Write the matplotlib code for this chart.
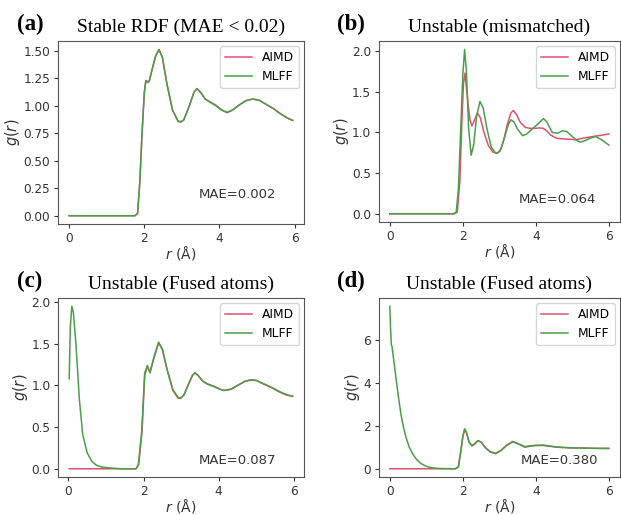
import matplotlib
matplotlib.use('Agg')
import matplotlib.pyplot as plt

# (a) stable RDF
ra = [0, 1.75, 1.82, 1.88, 1.94, 2.0, 2.04, 2.08, 2.13, 2.2, 2.3, 2.39, 2.48, 2.6, 2.75, 2.9,
      2.97, 3.05, 3.2, 3.32, 3.4, 3.5, 3.62, 3.75, 3.9, 4.05, 4.2, 4.35, 4.5, 4.7, 4.88, 5.05,
      5.25, 5.45, 5.65, 5.85, 5.95]
ga_mlff = [0, 0, 0.02, 0.3, 0.75, 1.12, 1.23, 1.22, 1.22, 1.32, 1.45, 1.51, 1.44, 1.2, 0.96, 0.86,
           0.855, 0.87, 1.0, 1.12, 1.155, 1.12, 1.06, 1.03, 1.0, 0.96, 0.94, 0.96, 1.0, 1.045, 1.06, 1.05,
           1.01, 0.97, 0.92, 0.88, 0.866]
ga_aimd = [0, 0, 0.02, 0.31, 0.76, 1.12, 1.22, 1.21, 1.22, 1.32, 1.45, 1.51, 1.44, 1.2, 0.96, 0.855,
           0.85, 0.87, 1.0, 1.12, 1.155, 1.12, 1.06, 1.035, 1.005, 0.965, 0.935, 0.96, 1.0, 1.045, 1.06, 1.05,
           1.01, 0.97, 0.92, 0.88, 0.866]

# (b) mismatched
rb_mlff = [0, 1.75, 1.82, 1.88, 1.94, 2.0, 2.05, 2.1, 2.16, 2.23, 2.3, 2.38, 2.47, 2.56, 2.66, 2.78,
           2.9, 2.96, 3.05, 3.15, 3.25, 3.32, 3.4, 3.5, 3.64, 3.75, 3.9, 4.05, 4.21, 4.3, 4.45, 4.6,
           4.73, 4.85, 5.0, 5.12, 5.22, 5.35, 5.5, 5.64, 5.8, 6.0]
gb_mlff = [0, 0, 0.02, 0.3, 1.0, 1.7, 2.02, 1.75, 1.05, 0.72, 0.85, 1.2, 1.38, 1.3, 1.05, 0.82,
           0.745, 0.745, 0.8, 0.95, 1.1, 1.155, 1.13, 1.04, 0.96, 0.98, 1.04, 1.1, 1.17, 1.13, 1.0, 0.99,
           1.02, 1.01, 0.95, 0.9, 0.88, 0.9, 0.93, 0.95, 0.91, 0.845]
rb_aimd = [0, 1.78, 1.85, 1.92, 1.98, 2.02, 2.06, 2.1, 2.15, 2.2, 2.25, 2.32, 2.4, 2.48, 2.58, 2.7,
           2.82, 2.93, 3.02, 3.12, 3.22, 3.32, 3.39, 3.47, 3.58, 3.72, 3.85, 4.0, 4.1, 4.2, 4.3, 4.4,
           4.55, 4.76, 4.95, 5.1, 5.3, 5.57, 5.8, 6.0]
gb_aimd = [0, 0, 0.02, 0.4, 1.2, 1.6, 1.73, 1.55, 1.33, 1.15, 1.08, 1.15, 1.24, 1.18, 1.0, 0.84,
           0.76, 0.745, 0.77, 0.9, 1.1, 1.24, 1.27, 1.22, 1.12, 1.06, 1.05, 1.05, 1.055, 1.05, 1.02, 0.97,
           0.93, 0.92, 0.915, 0.91, 0.93, 0.95, 0.965, 0.98]

# (c) fused atoms
rc_mlff = [0.02, 0.05, 0.09, 0.13, 0.2, 0.29, 0.38, 0.5, 0.62, 0.75, 0.9, 1.1, 1.4, 1.8, 1.86, 1.95,
           2.03, 2.1, 2.17, 2.28, 2.4, 2.5, 2.62, 2.78, 2.92, 2.99, 3.08, 3.2, 3.3, 3.37, 3.45, 3.58,
           3.7, 3.85, 4.0, 4.12, 4.23, 4.35, 4.5, 4.7, 4.86, 5.0, 5.2, 5.4, 5.6, 5.8, 5.97]
gc_mlff = [1.08, 1.7, 1.95, 1.88, 1.50, 0.84, 0.41, 0.19, 0.09, 0.04, 0.02, 0.01, 0.0, 0.0, 0.05, 0.45,
           1.15, 1.24, 1.15, 1.35, 1.52, 1.43, 1.2, 0.95, 0.855, 0.85, 0.89, 1.02, 1.12, 1.155, 1.12, 1.05,
           1.015, 0.99, 0.96, 0.94, 0.945, 0.96, 1.0, 1.05, 1.067, 1.06, 1.02, 0.98, 0.93, 0.89, 0.87]
rc_aimd = [0.02, 1.8, 1.87, 1.96, 2.03, 2.1, 2.17, 2.28, 2.4, 2.5, 2.62, 2.78, 2.92, 2.99, 3.08, 3.2,
           3.3, 3.37, 3.45, 3.58, 3.7, 3.85, 4.0, 4.12, 4.23, 4.35, 4.5, 4.7, 4.86, 5.0, 5.2, 5.4,
           5.6, 5.8, 5.97]
gc_aimd = [0, 0, 0.05, 0.45, 1.12, 1.23, 1.16, 1.33, 1.51, 1.44, 1.2, 0.94, 0.845, 0.845, 0.89, 1.02,
           1.12, 1.15, 1.12, 1.05, 1.02, 0.995, 0.965, 0.94, 0.945, 0.96, 1.0, 1.05, 1.067, 1.06, 1.015, 0.975,
           0.925, 0.885, 0.87]

# (d) fused atoms, large
rd_mlff = [0, 0.02, 0.045, 0.06, 0.09, 0.13, 0.22, 0.31, 0.38, 0.45, 0.54, 0.63, 0.74, 0.85, 1.0, 1.17,
           1.4, 1.8, 1.88, 1.95, 2.0, 2.05, 2.1, 2.17, 2.25, 2.33, 2.41, 2.5, 2.62, 2.75, 2.9, 3.05,
           3.2, 3.37, 3.5, 3.7, 3.85, 4.0, 4.22, 4.4, 4.6, 4.8, 5.0, 5.3, 5.6, 6.0]
gd_mlff = [7.55, 6.6, 5.75, 5.7, 5.3, 4.76, 3.55, 2.49, 1.9, 1.43, 0.98, 0.68, 0.42, 0.25, 0.11, 0.04,
           0.01, 0.0, 0.1, 0.9, 1.5, 1.86, 1.7, 1.25, 1.06, 1.15, 1.31, 1.25, 0.98, 0.78, 0.7, 0.85,
           1.08, 1.25, 1.17, 1.0, 1.05, 1.08, 1.1, 1.05, 1.0, 0.98, 0.97, 0.96, 0.95, 0.94]
rd_aimd = [0, 1.8, 1.88, 1.95, 2.0, 2.05, 2.1, 2.17, 2.25, 2.33, 2.41, 2.5, 2.62, 2.75, 2.9, 3.05,
           3.2, 3.37, 3.5, 3.7, 3.85, 4.0, 4.22, 4.4, 4.6, 4.8, 5.0, 5.3, 5.6, 6.0]
gd_aimd = [0, 0, 0.08, 0.85, 1.45, 1.82, 1.68, 1.25, 1.08, 1.17, 1.3, 1.24, 0.98, 0.8, 0.72, 0.86,
           1.1, 1.27, 1.18, 1.03, 1.07, 1.09, 1.08, 1.04, 1.01, 0.99, 0.97, 0.965, 0.95, 0.95]

panels = [
    ('(a)', 'Stable RDF (MAE < 0.02)', ra, ga_aimd, ra, ga_mlff, 'MAE=0.002', '%.2f'),
    ('(b)', 'Unstable (mismatched)', rb_aimd, gb_aimd, rb_mlff, gb_mlff, 'MAE=0.064', '%.1f'),
    ('(c)', 'Unstable (Fused atoms)', rc_aimd, gc_aimd, rc_mlff, gc_mlff, 'MAE=0.087', '%.1f'),
    ('(d)', 'Unstable (Fused atoms)', rd_aimd, gd_aimd, rd_mlff, gd_mlff, 'MAE=0.380', '%g'),
]
rects = [[0.0934, 0.565, 0.396, 0.355], [0.610, 0.569, 0.388, 0.351],
         [0.0934, 0.074, 0.396, 0.347], [0.610, 0.074, 0.388, 0.347]]
label_x = [0.027, 0.543, 0.027, 0.543]
mae_pos = [(0.73, 0.16), (0.74, 0.127), (0.73, 0.092), (0.75, 0.09)]

aimd_color = '#e0506e'
mlff_color = '#4a9e4a'
edge = '#555555'

fig = plt.figure(figsize=(6.21, 5.15), dpi=100)
for i, (tag, title, r1, g1, r2, g2, mae, fmt) in enumerate(panels):
    ax = fig.add_axes(rects[i])
    ax.plot(r1, g1, color=aimd_color, lw=1.1, label='AIMD')
    ax.plot(r2, g2, color=mlff_color, lw=1.1, label='MLFF')
    ax.set_xticks([0, 2, 4, 6])
    ax.yaxis.set_major_formatter(matplotlib.ticker.FormatStrFormatter(fmt))
    ax.set_xlabel(r'$r$ (Å)', fontsize=10, color='#333333', labelpad=-0.5)
    ax.set_ylabel(r'$g(r)$', fontsize=10.5, color='#333333', labelpad=1)
    ax.tick_params(labelsize=8.7, colors='#333333', length=3, pad=2.5)
    for s in ax.spines.values():
        s.set_color(edge)
    ax.legend(loc='upper right', fontsize=8.8, handlelength=2.2, borderaxespad=0.4)
    ax.text(mae_pos[i][0], mae_pos[i][1], mae, transform=ax.transAxes, ha='center', va='center',
            fontsize=9.5, color='#333333')
    ax.set_title(title, family='Liberation Serif', fontsize=14, pad=7)
    top = rects[i][1] + rects[i][3]
    fig.text(label_x[i], top + 0.012, tag, family='Liberation Serif', fontweight='bold',
             fontsize=16.5, va='bottom')

fig.savefig('out.png', dpi=100)
